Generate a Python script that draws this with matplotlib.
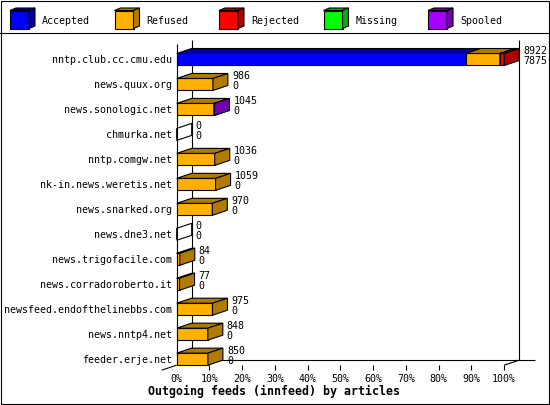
import matplotlib
matplotlib.use("Agg")
import matplotlib.pyplot as plt
from matplotlib.patches import Polygon, Rectangle
from matplotlib.transforms import Affine2D

# ---------------- data ----------------
feeds = ["nntp.club.cc.cmu.edu", "news.quux.org", "news.sonologic.net", "chmurka.net",
         "nntp.comgw.net", "nk-in.news.weretis.net", "news.snarked.org", "news.dne3.net",
         "news.trigofacile.com", "news.corradoroberto.it", "newsfeed.endofthelinebbs.com",
         "news.nntp4.net", "feeder.erje.net"]
offered = [8922, 986, 1045, 0, 1036, 1059, 970, 0, 84, 77, 975, 848, 850]
accepted = [7875, 0, 0, 0, 0, 0, 0, 0, 0, 0, 0, 0, 0]
refused = [930, 986, 1015, 0, 1036, 1059, 970, 0, 84, 77, 975, 848, 850]
rejected = [117, 0, 0, 0, 0, 0, 0, 0, 0, 0, 0, 0, 0]
missing = [0, 0, 0, 0, 0, 0, 0, 0, 0, 0, 0, 0, 0]
spooled = [0, 0, 12, 0, 0, 0, 0, 0, 0, 0, 0, 0, 0]
series_names = ["Accepted", "Refused", "Rejected", "Missing", "Spooled"]
tick_values = [0, 10, 20, 30, 40, 50, 60, 70, 80, 90, 100]
title = "Outgoing feeds (innfeed) by articles"

# ---------------- style ----------------
front_colors = ["#0000ff", "#ffb000", "#ff0000", "#00ff00", "#a800ff"]
dark_colors = ["#0000a8", "#b07c00", "#b00000", "#00b000", "#7400b0"]
W, H = 550, 405
X0_PX, PX_PER_PCT = 176.7, 3.275
Y0_PX, PX_PER_ROW = 59.5, 24.97
MONO = "DejaVu Sans Mono"
FS = 7.2

fig = plt.figure(figsize=(W / 100, H / 100), dpi=100)
ax = fig.add_axes([0, 0, 1, 1])
ax.axis("off")
ax.set_xlim(-X0_PX / PX_PER_PCT, (W - X0_PX) / PX_PER_PCT)
ax.set_ylim((H - Y0_PX) / PX_PER_ROW, -Y0_PX / PX_PER_ROW)

def px_x(p):
    return p / PX_PER_PCT

def px_y(p):
    return p / PX_PER_ROW

dx = px_x(15)
dy = px_y(5)
hh = px_y(6)
lw = 0.8
n = len(feeds)
scale = 100.0 / max(offered)
floor_front = (n - 1) + hh
top_front = px_y(44 - Y0_PX)
top_back = px_y(40 - Y0_PX)

def line(xs, ys, z=1):
    ax.plot(xs, ys, color="black", lw=lw, solid_capstyle="butt", zorder=z, clip_on=False)

# frame
line([0, 0], [top_front, floor_front], z=3)
line([dx, dx], [top_back, floor_front - dy])
line([100 + dx, 100 + dx], [top_back, floor_front - dy])
line([dx, 100 + dx + px_x(16)], [floor_front - dy] * 2)
line([-dx, 0], [floor_front + dy, floor_front])
line([100, 100 + dx], [floor_front, floor_front - dy])
for t in tick_values[1:]:
    line([t, t], [floor_front, floor_front + dy])
for t in tick_values:
    ax.text(t, floor_front + px_y(16.7), f"{t}%", ha="center", va="baseline",
            family=MONO, fontsize=FS)

# bars
for i in range(n):
    segs = [accepted[i], refused[i], rejected[i], missing[i], spooled[i]]
    top, bot = i - hh, i + hh
    s = 0.0
    total = sum(segs)
    if total == 0:
        ax.add_patch(Polygon([(0, top), (dx, top - dy), (dx, bot - dy), (0, bot)], closed=True,
                             facecolor="none", edgecolor="black", lw=lw, zorder=4))
    for k, v in enumerate(segs):
        if v <= 0:
            continue
        e = s + v * scale
        ax.add_patch(Polygon([(s, top), (e, top), (e, bot), (s, bot)], closed=True,
                             facecolor=front_colors[k], edgecolor="black", lw=lw, zorder=4))
        ax.add_patch(Polygon([(s, top), (e, top), (e + dx, top - dy), (s + dx, top - dy)],
                             closed=True, facecolor=dark_colors[k], edgecolor="black",
                             lw=lw, zorder=4))
        ax.add_patch(Polygon([(e, top), (e + dx, top - dy), (e + dx, bot - dy), (e, bot)],
                             closed=True, facecolor=dark_colors[k], edgecolor="black",
                             lw=lw, zorder=4))
        s = e
    lx = s + dx + px_x(4)
    ax.text(lx, i - px_y(5.2), str(offered[i]), ha="left", va="baseline",
            family=MONO, fontsize=FS, zorder=5)
    ax.text(lx, i + px_y(4.8), str(accepted[i]), ha="left", va="baseline",
            family=MONO, fontsize=FS, zorder=5)
    ax.text(-px_x(4.5), i + px_y(3.8), feeds[i], ha="right", va="baseline",
            family=MONO, fontsize=FS, zorder=5)

ax.text(px_x(274 - X0_PX), floor_front + px_y(30), title, ha="center", va="baseline",
        family=MONO, fontsize=8.4, fontweight="bold")

# legend (figure pixel coordinates)
pix = Affine2D().scale(1 / W, -1 / H).translate(0, 1) + fig.transFigure
for k, name in enumerate(series_names):
    x = 10 + 104.5 * k
    y0, y1, cw = 10.5, 28.5, 19
    ddx, ddy = 6, 2.5
    fig.patches.append(Polygon([(x, y0), (x + cw, y0), (x + cw, y1), (x, y1)], closed=True,
                               facecolor=front_colors[k], edgecolor="black", lw=lw, transform=pix))
    fig.patches.append(Polygon([(x, y0), (x + cw, y0), (x + cw + ddx, y0 - ddy), (x + ddx, y0 - ddy)],
                               closed=True, facecolor=dark_colors[k], edgecolor="black", lw=lw,
                               transform=pix))
    fig.patches.append(Polygon([(x + cw, y0), (x + cw + ddx, y0 - ddy), (x + cw + ddx, y1 - ddy),
                                (x + cw, y1)], closed=True, facecolor=dark_colors[k],
                               edgecolor="black", lw=lw, transform=pix))
    fig.text(x + 32, 23.5, name, transform=pix, ha="left", va="baseline",
             family=MONO, fontsize=FS)

fig.lines.append(plt.Line2D([0, W], [32.5, 32.5], color="black", lw=lw, transform=pix))
fig.patches.append(Rectangle((0.5, 0.5), W - 2, H - 2, facecolor="none", edgecolor="black",
                             lw=lw, transform=pix))

fig.savefig("out.png", dpi=100, facecolor="white")
